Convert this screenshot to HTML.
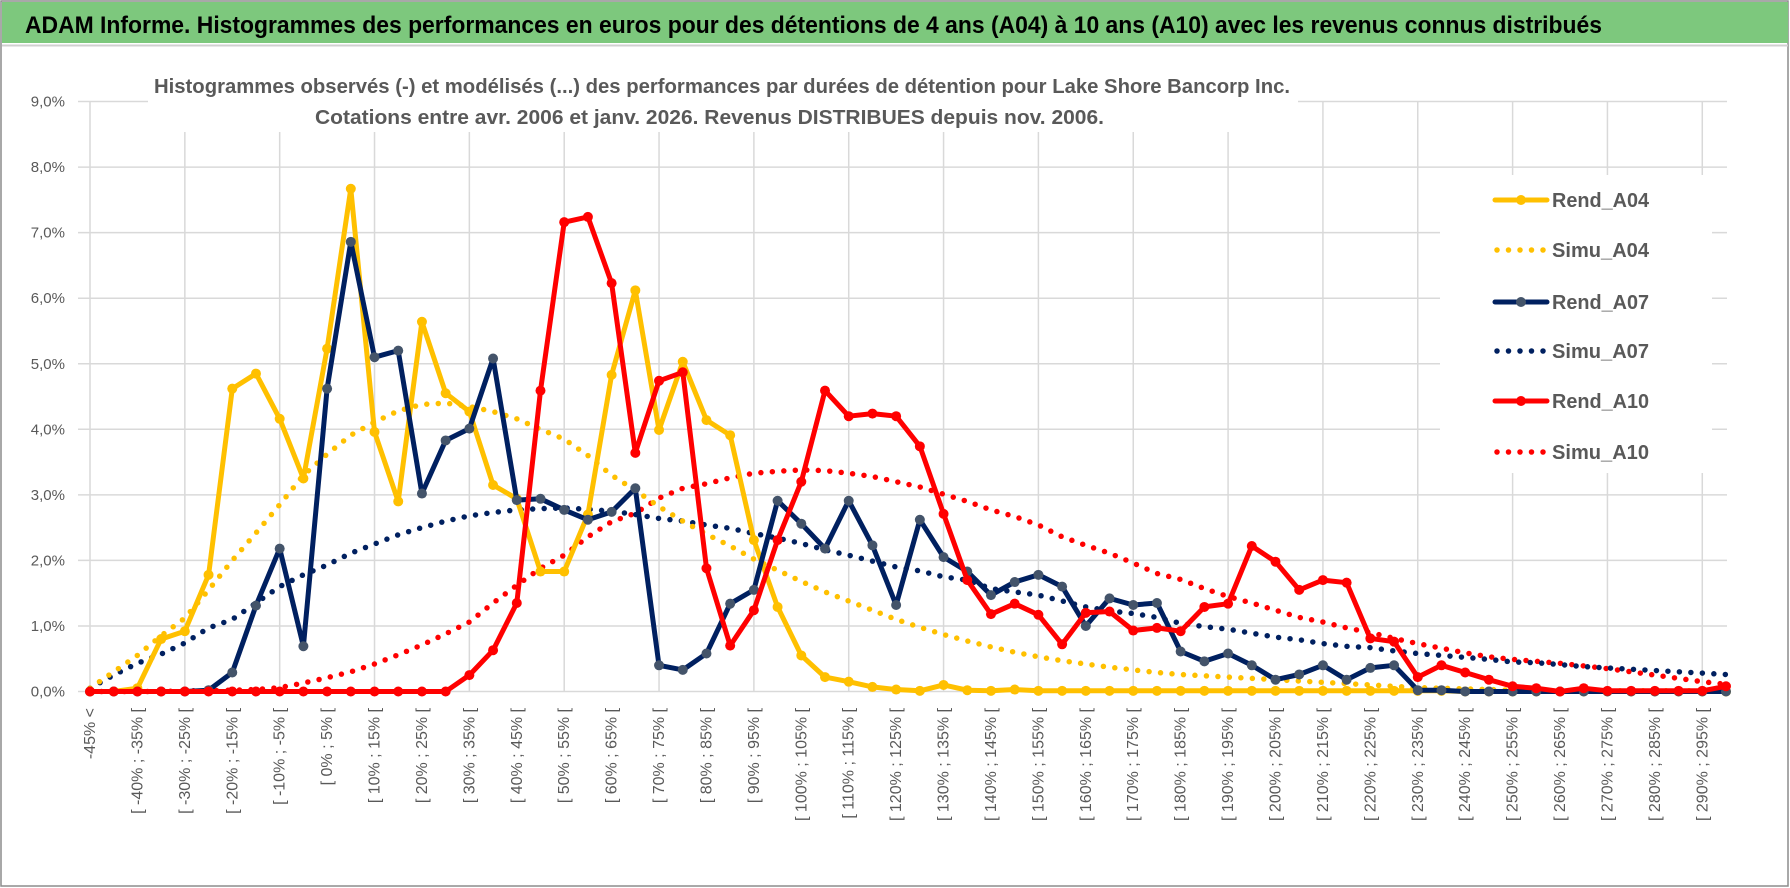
<!DOCTYPE html>
<html><head><meta charset="utf-8">
<style>
html,body{margin:0;padding:0;background:#fff;}
svg{display:block;font-family:"Liberation Sans",sans-serif;}
</style></head>
<body>
<svg id="chart" width="1790" height="888" viewBox="0 0 1790 888">
  <rect x="0" y="0" width="1790" height="888" fill="#ffffff"/>
  <rect x="1" y="1" width="1787" height="885" fill="none" stroke="#8c8c8c" stroke-width="1.5"/>
  <rect x="2" y="2" width="1786" height="41" fill="#7dc87d"/>
  <line x1="2" y1="45.5" x2="1788" y2="45.5" stroke="#d0d0d0" stroke-width="2"/>
  <text x="25" y="33" font-size="24" font-weight="bold" fill="#000" textLength="1577" lengthAdjust="spacingAndGlyphs">ADAM Informe. Histogrammes des performances en euros pour des détentions de 4 ans (A04) à 10 ans (A10) avec les revenus connus distribués</text>
  <g id="grid"></g>
  <rect x="148" y="70" width="1150" height="62" fill="#fff"/>
  <text x="154" y="93" font-size="20" font-weight="bold" fill="#595959" textLength="1136" lengthAdjust="spacingAndGlyphs">Histogrammes observés (-) et modélisés (...) des performances par durées de détention pour Lake Shore Bancorp Inc.</text>
  <text x="315" y="124" font-size="20" font-weight="bold" fill="#595959" textLength="789" lengthAdjust="spacingAndGlyphs">Cotations entre avr. 2006 et janv. 2026. Revenus DISTRIBUES depuis nov. 2006.</text>
  <g id="yaxis"></g>
  <g id="xaxis"></g>
  <g id="series"></g>
  <g id="legend"></g>
</svg>
<script>
const categories = (function(){
  const c = ['-45% <'];
  for (let a = -45; a < 300; a += 5) c.push('[ ' + a + '% ; ' + (a + 5) + '% [');
  return c;
})();
const yTicks = [0,1,2,3,4,5,6,7,8,9];
const yTickLabels = ['0,0%','1,0%','2,0%','3,0%','4,0%','5,0%','6,0%','7,0%','8,0%','9,0%'];
const rendA04 = [0,0,0.05,0.8,0.92,1.78,4.62,4.85,4.16,3.25,5.23,7.67,3.96,2.9,5.64,4.55,4.27,3.15,2.94,1.83,1.83,2.7,4.83,6.12,3.99,5.03,4.14,3.91,2.31,1.29,0.55,0.22,0.15,0.07,0.03,0.01,0.1,0.02,0.01,0.03,0.01,0.01,0.01,0.01,0.01,0.01,0.01,0.01,0.01,0.01,0.01,0.01,0.01,0.01,0.01,0.01,0.01,0.01,0,0,0,0,0,0,0,0,0,0,0,0];
const simuA04 = [0.05,0.3,0.55,0.85,1.12,1.55,2.0,2.42,2.85,3.3,3.62,3.91,4.11,4.28,4.38,4.4,4.35,4.27,4.16,4.0,3.85,3.6,3.3,3.07,2.82,2.6,2.4,2.22,2.02,1.85,1.68,1.52,1.38,1.24,1.1,0.98,0.87,0.77,0.68,0.6,0.53,0.47,0.42,0.37,0.33,0.29,0.26,0.24,0.22,0.2,0.18,0.16,0.14,0.12,0.1,0.08,0.06,0.05,0.04,0.03,0.02,0.02,0.01,0.01,0.01,0.01,0.01,0.01,0.01,0.01];
const rendA07 = [0,0,0,0,0,0.02,0.29,1.31,2.18,0.69,4.62,6.86,5.1,5.2,3.02,3.83,4.01,5.08,2.92,2.94,2.77,2.62,2.74,3.1,0.4,0.33,0.58,1.34,1.55,2.91,2.56,2.18,2.91,2.23,1.32,2.62,2.05,1.83,1.47,1.67,1.78,1.6,1.0,1.42,1.32,1.35,0.61,0.46,0.58,0.4,0.18,0.26,0.4,0.18,0.36,0.4,0.02,0.02,0,0,0,0,0,0,0,0,0,0,0,0];
const simuA07 = [0.05,0.25,0.43,0.57,0.74,0.97,1.1,1.35,1.6,1.78,1.93,2.11,2.25,2.39,2.5,2.6,2.68,2.73,2.77,2.79,2.8,2.78,2.75,2.7,2.64,2.6,2.54,2.49,2.41,2.34,2.26,2.16,2.08,1.99,1.9,1.84,1.75,1.7,1.57,1.52,1.47,1.38,1.29,1.23,1.19,1.13,1.04,0.99,0.95,0.89,0.83,0.79,0.73,0.69,0.67,0.62,0.58,0.55,0.52,0.49,0.45,0.44,0.41,0.38,0.36,0.34,0.32,0.3,0.28,0.26];
const rendA10 = [0,0,0,0,0,0,0,0,0,0,0,0,0,0,0,0,0.25,0.63,1.35,4.59,7.16,7.24,6.23,3.64,4.74,4.87,1.88,0.7,1.24,2.31,3.2,4.59,4.2,4.24,4.2,3.74,2.71,1.7,1.18,1.34,1.17,0.72,1.2,1.22,0.93,0.97,0.92,1.29,1.34,2.22,1.98,1.55,1.7,1.66,0.81,0.76,0.22,0.4,0.29,0.18,0.08,0.05,0.0,0.05,0.01,0.01,0.01,0.01,0.01,0.08];
const simuA10 = [0,0,0,0,0.01,0.01,0.02,0.03,0.06,0.13,0.21,0.3,0.42,0.56,0.71,0.88,1.06,1.35,1.62,1.88,2.08,2.36,2.59,2.72,2.95,3.1,3.17,3.26,3.33,3.36,3.38,3.37,3.33,3.28,3.2,3.12,3.01,2.9,2.77,2.67,2.54,2.36,2.23,2.11,1.96,1.8,1.71,1.57,1.45,1.35,1.24,1.13,1.06,0.97,0.9,0.81,0.73,0.66,0.59,0.53,0.49,0.46,0.43,0.39,0.35,0.3,0.25,0.2,0.15,0.11];

const NS = 'http://www.w3.org/2000/svg';
const X0 = 90, XSTEP = 23.71, Y0 = 691.5, YUNIT = 65.55;
function xPos(i){ return X0 + i * XSTEP; }
function yPos(v){ return Y0 - v * YUNIT; }
function mk(tag, attrs, parent){
  const e = document.createElementNS(NS, tag);
  for (const k in attrs) e.setAttribute(k, attrs[k]);
  parent.appendChild(e);
  return e;
}
const grid = document.getElementById('grid');
yTicks.forEach(function(t){
  const l = mk('line', {x1:78, x2:1727, y1:yPos(t), y2:yPos(t), stroke:'#d9d9d9', 'stroke-width':1.5}, grid);
  
  
});
for (let i = 0; i < categories.length; i += 4) {
  const l = mk('line', {x1:xPos(i), x2:xPos(i), y1:yPos(9), y2:yPos(0), stroke:'#d9d9d9', 'stroke-width':1.5}, grid);
  
  
}
const yaxis = document.getElementById('yaxis');
yTicks.forEach(function(t, k){
  const tx = mk('text', {x:65, y:yPos(t) + 5, 'text-anchor':'end', 'font-size':15, fill:'#595959'}, yaxis);
  tx.textContent = yTickLabels[k];
  
  
});
const xaxis = document.getElementById('xaxis');
for (let i = 0; i < categories.length; i += 2) {
  const x = xPos(i) + 5, y = 708;
  const tx = mk('text', {x:x, y:y, 'text-anchor':'end', 'font-size':16, fill:'#595959', transform:'rotate(-90 ' + x + ' ' + y + ')'}, xaxis);
  tx.textContent = categories[i];
  
  
}
const seriesG = document.getElementById('series');
function pts(arr){ return arr.map(function(v, i){ return xPos(i).toFixed(1) + ',' + yPos(v).toFixed(1); }).join(' '); }
function drawDotted(arr, color, name){
  const p = mk('polyline', {points:pts(arr), fill:'none', stroke:color, 'stroke-width':5.5, 'stroke-linecap':'round', 'stroke-dasharray':'0 11.5'}, seriesG);
  
  
}
function drawSolid(arr, color, mcolor, name){
  const g = mk('g', {}, seriesG);
  
  
  const p = mk('polyline', {points:pts(arr), fill:'none', stroke:color, 'stroke-width':5, 'stroke-linejoin':'round'}, g);
  
  
  arr.forEach(function(v, i){
    const c = mk('circle', {cx:xPos(i), cy:yPos(v), r:5, fill:mcolor}, g);
    
    
  });
}
drawDotted(simuA10, '#ff0000', 'simu-a10');
drawDotted(simuA07, '#002060', 'simu-a07');
drawDotted(simuA04, '#ffc000', 'simu-a04');
drawSolid(rendA04, '#ffc000', '#ffc000', 'rend-a04');
drawSolid(rendA07, '#002060', '#44546a', 'rend-a07');
drawSolid(rendA10, '#ff0000', '#ff0000', 'rend-a10');

const legend = document.getElementById('legend');
const lb = mk('rect', {x:1440, y:175, width:272, height:298, fill:'#fff'}, legend);


const legendItems = [
  ['Rend_A04', '#ffc000', '#ffc000', false, 200],
  ['Simu_A04', '#ffc000', null, true, 250],
  ['Rend_A07', '#002060', '#44546a', false, 302],
  ['Simu_A07', '#002060', null, true, 351],
  ['Rend_A10', '#ff0000', '#ff0000', false, 401],
  ['Simu_A10', '#ff0000', null, true, 452]
];
legendItems.forEach(function(it){
  const g = mk('g', {}, legend);
  
  
  const y = it[4];
  if (it[3]) {
    mk('line', {x1:1497, x2:1545, y1:y, y2:y, stroke:it[1], 'stroke-width':5.5, 'stroke-linecap':'round', 'stroke-dasharray':'0 11.5'}, g);
  } else {
    mk('line', {x1:1495, x2:1547, y1:y, y2:y, stroke:it[1], 'stroke-width':5, 'stroke-linecap':'round'}, g);
    mk('circle', {cx:1521, cy:y, r:5, fill:it[2]}, g);
  }
  const t = mk('text', {x:1552, y:y + 7, 'font-size':20, 'font-weight':'bold', fill:'#595959', textLength:97, lengthAdjust:'spacingAndGlyphs'}, g);
  t.textContent = it[0];
});
</script>
</body></html>
